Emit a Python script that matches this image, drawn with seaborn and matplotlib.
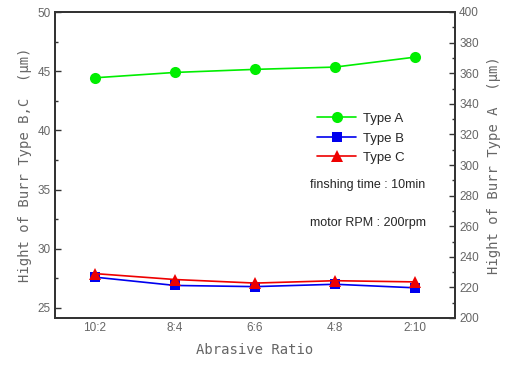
import pandas as pd
import matplotlib
matplotlib.use("Agg")
import matplotlib.pyplot as plt
import seaborn as sns
from matplotlib.ticker import MultipleLocator

# data
ratios = ["10:2", "8:4", "6:6", "4:8", "2:10"]
type_a = [357.0, 360.5, 362.5, 364.0, 370.5]   # right axis
type_b = [27.6, 26.9, 26.8, 27.0, 26.7]         # left axis
type_c = [27.9, 27.4, 27.1, 27.3, 27.2]         # left axis

df = pd.DataFrame({"ratio": ratios, "A": type_a, "B": type_b, "C": type_c})
df["x"] = range(len(ratios))

sns.set_style("white")
plt.rcParams["font.family"] = ["Liberation Sans", "DejaVu Sans"]

fig = plt.figure(figsize=(5.06, 3.69), dpi=100)
ax = fig.add_axes([55 / 506, 51 / 369, 400 / 506, 306 / 369])
ax2 = ax.twinx()

sns.lineplot(data=df, x="x", y="B", ax=ax, color="#0000ee", marker="s",
             markersize=7, markeredgewidth=0, linewidth=1.2, label="Type B", legend=False)
sns.lineplot(data=df, x="x", y="C", ax=ax, color="#ee0000", marker="^",
             markersize=8, markeredgewidth=0, linewidth=1.2, label="Type C", legend=False)
sns.lineplot(data=df, x="x", y="A", ax=ax2, color="#00ee00", marker="o",
             markersize=8, markeredgewidth=0, linewidth=1.2, label="Type A", legend=False)

ax.set_xlim(-0.5, 4.5)
ax.set_ylim(24.15, 50)
ax2.set_ylim(200, 400)
ax.set_xticks(df["x"])
ax.set_xticklabels(ratios)
ax.yaxis.set_major_locator(MultipleLocator(5))
ax.yaxis.set_minor_locator(MultipleLocator(2.5))
ax2.yaxis.set_major_locator(MultipleLocator(20))
ax2.yaxis.set_minor_locator(MultipleLocator(10))

grey = "#666666"
for a in (ax, ax2):
    for s in a.spines.values():
        s.set_color("#333333")
        s.set_linewidth(1.3)
    a.tick_params(which="major", direction="in", length=4, width=1, color="#333333",
                  labelsize=8.5, labelcolor=grey, pad=3)
    a.tick_params(which="minor", direction="in", length=2.5, width=1, color="#333333")
ax.tick_params(axis="x", which="both", top=False)

mono = ["DejaVu Sans Mono"]
ax.set_xlabel("Abrasive Ratio", fontsize=10, color=grey, family=mono, labelpad=6)
ax.set_ylabel("Hight of Burr Type B,C  (\u03bcm)", fontsize=10, color=grey, family=mono, labelpad=4)
ax2.set_ylabel("Hight of Burr Type A  (\u03bcm)", fontsize=10, color=grey, family=mono, labelpad=6)

handles = [ax2.lines[0], ax.lines[0], ax.lines[1]]
leg = ax.legend(handles, ["Type A", "Type B", "Type C"], loc="upper left",
                bbox_to_anchor=(305 / 506, 1 - 101 / 369), bbox_transform=fig.transFigure,
                frameon=False, fontsize=9.5, handlelength=3.0, labelspacing=0.55,
                handletextpad=0.5)

fig.text(310 / 506, 1 - 185 / 369, "finshing time : 10min", fontsize=9, va="center")
fig.text(310 / 506, 1 - 223 / 369, "motor RPM : 200rpm", fontsize=9, va="center")

fig.savefig("out.png", dpi=100)
